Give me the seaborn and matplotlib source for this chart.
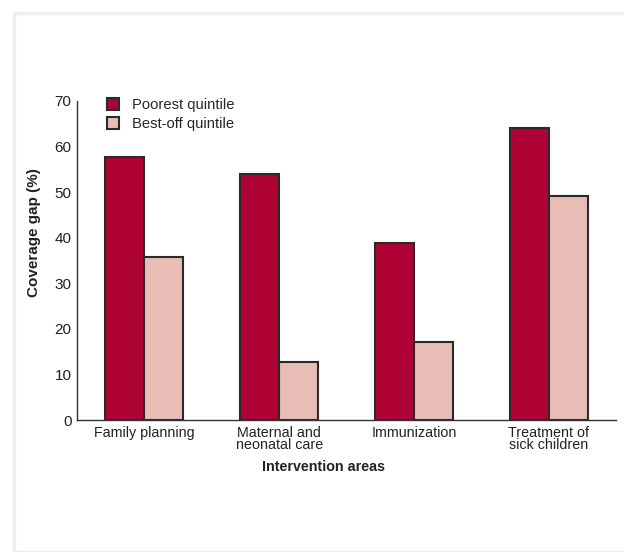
import matplotlib
matplotlib.use("Agg")
import matplotlib.pyplot as plt
import seaborn as sns
import pandas as pd
from matplotlib.patches import Rectangle, Patch

categories = ["Family planning", "Maternal and\nneonatal care", "Immunization", "Treatment of\nsick children"]
poorest = [57.7, 54.0, 38.8, 64.1]
best_off = [35.8, 12.7, 17.1, 49.2]
series = ["Poorest quintile", "Best-off quintile"]
yticks = [0, 10, 20, 30, 40, 50, 60, 70]

df = pd.DataFrame({
    "area": categories * 2,
    "gap": poorest + best_off,
    "group": [series[0]] * 4 + [series[1]] * 4,
})

sns.set_theme(style="white")
plt.rcParams["font.family"] = ["Liberation Sans", "DejaVu Sans"]

colors = {series[0]: "#B00335", series[1]: "#E8BDB5"}

fig = plt.figure(figsize=(6.24, 5.52), dpi=100)
ax = fig.add_axes([77 / 624, 132 / 552, (616 - 77) / 624, (420 - 101) / 552])

sns.barplot(data=df, x="area", y="gap", hue="group", palette=colors, ax=ax,
            width=0.58, edgecolor="#2a2a2a", linewidth=1.5, saturation=1, legend=False)

ax.set_xlim(-0.5, 3.5)
ax.set_ylim(0, 70)
ax.set_yticks(yticks)
ax.tick_params(axis="y", length=0, labelsize=11, colors="#222222", pad=4)
ax.tick_params(axis="x", length=0, labelsize=10.3, colors="#222222", pad=4)
for lbl in ax.get_xticklabels():
    lbl.set_linespacing(0.85)
for side in ["top", "right"]:
    ax.spines[side].set_visible(False)
for side in ["left", "bottom"]:
    ax.spines[side].set_color("#333333")
    ax.spines[side].set_linewidth(1.0)

ax.set_ylabel("Coverage gap (%)", fontsize=11, fontweight="bold", color="#222222")
ax.yaxis.set_label_coords(-0.066, 0.589)
ax.set_xlabel("Intervention areas", fontsize=10.3, fontweight="bold", color="#222222")
ax.xaxis.set_label_coords(0.457, -0.124)

handles = [Patch(facecolor=colors[s], edgecolor="#2a2a2a", linewidth=1.5, label=s) for s in series]
leg = ax.legend(handles=handles, loc="upper left", bbox_to_anchor=(0.055, 1.01), frameon=False,
                fontsize=10.6, handlelength=0.85, handleheight=0.85, handletextpad=0.9,
                labelspacing=0.35, borderaxespad=0, borderpad=0)

fig.patches.append(Rectangle((14 / 624, 0), 1.0, (552 - 13) / 552, transform=fig.transFigure,
                             fill=False, edgecolor="#eeeeee", linewidth=2.5, zorder=0))

fig.savefig("out.png", dpi=100)
